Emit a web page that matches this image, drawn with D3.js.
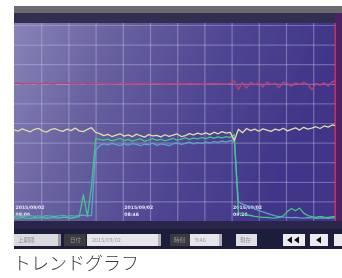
<!DOCTYPE html>
<html><head><meta charset="utf-8">
<script src="https://cdn.jsdelivr.net/npm/d3@7"></script>
<style>
html,body{margin:0;padding:0;background:#fff;}
svg{display:block;}
</style></head><body>
<svg id="chart" width="342" height="278"></svg>
<script>
// sample times (minutes), one sample every 1.5 min
const minutes = d3.range(0, 121, 1.5);

const redSeries = [
  70.1, 70.3, 69.9, 70.2, 70.0, 70.4, 69.8, 70.1, 70.3, 70.0,
  69.9, 70.6, 70.2, 70.5, 69.8, 70.1, 70.0, 70.2, 69.9, 70.1,
  70.0, 70.2, 70.1, 69.9, 70.0, 70.1, 70.2, 70.0, 69.9, 70.1,
  70.0, 70.1, 69.9, 70.0, 70.2, 70.1, 70.0, 69.9, 70.1, 70.0,
  70.1, 70.0, 69.9, 70.2, 70.0, 70.1, 69.9, 70.0, 70.1, 70.2,
  70.0, 70.1, 69.8, 70.2, 71.4, 67.2, 70.6, 67.8, 70.7, 69.5,
  70.6, 68.4, 71.0, 69.6, 70.4, 68.0, 70.8, 70.1, 68.8, 70.5,
  69.6, 70.8, 69.8, 67.0, 70.2, 69.2, 70.6, 68.8, 71.0, 71.6,
  70.6
];
const yellowSeries = [
  46.5, 45.8, 47.0, 46.2, 45.5, 46.8, 47.3, 46.0, 45.4, 46.6,
  47.1, 46.3, 45.7, 46.9, 46.1, 47.4, 46.0, 45.6, 46.8, 47.6,
  45.2, 44.6, 43.6, 44.2, 43.1, 43.8, 44.5, 43.3, 43.9, 43.0,
  44.3, 43.5, 42.8, 44.1, 43.4, 43.7, 42.9, 44.0, 43.2, 43.8,
  44.4, 43.1, 43.6, 44.6, 43.9, 44.8, 44.2, 45.0, 44.1, 45.3,
  44.5, 45.6, 44.8, 45.2, 41.0, 46.8, 45.0, 47.2, 46.1, 46.9,
  45.8, 47.0, 46.4, 45.7, 46.9, 46.2, 47.3, 46.0, 46.8, 47.5,
  46.4, 47.8, 46.9, 47.4, 48.1, 47.2, 48.5, 47.9, 49.0, 48.6,
  50.2
];
const greenSeries = [
  1.6, 1.4, 1.8, 1.5, 1.3, 1.7, 1.5, 1.9, 1.4, 1.6,
  1.8, 1.5, 2.0, 1.7, 1.4, 1.9, 2.2, 13.5, 2.4, 17.8,
  42.0, 41.6, 41.2, 41.8, 40.9, 41.5, 42.1, 41.0, 41.6, 40.8,
  41.4, 41.9, 40.7, 41.3, 42.0, 41.1, 41.7, 40.9, 41.5, 42.2,
  41.2, 41.8, 42.4, 41.6, 42.3, 41.9, 42.6, 42.0, 42.8, 42.3,
  42.9, 42.4, 43.0, 42.6, 44.0, 4.2, 3.6, 3.1, 2.8, 2.4,
  2.1, 1.9, 1.8, 1.6, 1.5, 1.8, 2.6, 4.8, 6.4, 5.2,
  6.6, 4.0, 2.8, 2.2, 1.9, 2.3, 2.0, 1.8, 2.2, 2.0,
  1.9
];
const cyanSeries = [
  2.4, 2.6, 2.2, 2.5, 2.8, 2.3, 2.6, 2.4, 2.7, 2.5,
  2.3, 2.6, 2.9, 2.4, 2.7, 2.5, 2.8, 3.0, 2.6, 2.9,
  36.0, 38.6, 39.4, 38.8, 39.6, 39.0, 38.5, 39.3, 38.7, 39.5,
  39.1, 38.4, 39.2, 38.9, 39.7, 38.6, 39.3, 39.0, 38.5, 39.4,
  39.8, 39.1, 39.6, 40.2, 39.4, 40.0, 39.5, 40.3, 39.8, 40.5,
  40.1, 40.7, 40.2, 41.0, 40.4, 9.8, 8.6, 7.9, 7.0, 6.2,
  5.4, 4.6, 3.9, 3.2, 2.6, 2.2, 2.0, 1.9, 1.7, 1.8,
  1.6, 1.5, 1.7, 1.6, 1.4, 1.5, 1.6, 1.4, 1.5, 1.6,
  1.5
];

const tickMinutes = [0, 40, 80];
const tickDates = ["2015/09/02", "2015/09/02", "2015/09/02"];
const tickTimes = ["08:06", "08:46", "09:26"];

const series = [
  {name: "red", values: redSeries, color: "#c83c72"},
  {name: "cyan", values: cyanSeries, color: "#5fa2cc"},
  {name: "green", values: greenSeries, color: "#44c688"},
  {name: "yellow", values: yellowSeries, color: "#e4dca6"}
];

const svg = d3.select("#chart");
const plot = {left: 14, top: 23, right: 335, bottom: 221};

const defs = svg.append("defs");
const bg = defs.append("linearGradient").attr("id", "bg")
    .attr("x1", 0).attr("y1", 0).attr("x2", 1).attr("y2", 0.25);
bg.append("stop").attr("offset", 0).attr("stop-color", "#8883b8");
bg.append("stop").attr("offset", 0.3).attr("stop-color", "#6862a0");
bg.append("stop").attr("offset", 0.65).attr("stop-color", "#4e4592");
bg.append("stop").attr("offset", 1).attr("stop-color", "#3f3488");
defs.append("filter").attr("id", "soft")
    .append("feGaussianBlur").attr("stdDeviation", 0.5);
defs.append("clipPath").attr("id", "clip").append("rect")
    .attr("x", plot.left).attr("y", plot.top)
    .attr("width", plot.right - plot.left).attr("height", plot.bottom - plot.top);

const photo = svg.append("g").attr("filter", "url(#soft)");

// top bezel
photo.append("rect").attr("x", 14).attr("y", 6).attr("width", 328).attr("height", 7).attr("fill", "#6c6c70");
photo.append("rect").attr("x", 14).attr("y", 13).attr("width", 328).attr("height", 10).attr("fill", "#322f50");
// plot background
photo.append("rect").attr("x", plot.left).attr("y", plot.top)
    .attr("width", plot.right - plot.left).attr("height", plot.bottom - plot.top)
    .attr("fill", "url(#bg)");
// right edge
photo.append("rect").attr("x", 335).attr("y", 13).attr("width", 7).attr("height", 208).attr("fill", "#4b2064");
photo.append("rect").attr("x", 334.5).attr("y", 23).attr("width", 1.5).attr("height", 198).attr("fill", "#c8325a");
// bottom strip + control bar
photo.append("rect").attr("x", 14).attr("y", 221).attr("width", 328).attr("height", 8).attr("fill", "#2b2849");
photo.append("rect").attr("x", 14).attr("y", 229).attr("width", 328).attr("height", 20).attr("fill", "#1e1c3e");

const x = d3.scaleLinear().domain([0, 120]).range([14, 340.4]);
const y = d3.scaleLinear().domain([0, 100]).range([221, 25]);

const plotG = photo.append("g").attr("clip-path", "url(#clip)");

// grid
plotG.append("g")
    .attr("transform", `translate(0,${plot.bottom})`)
    .call(d3.axisBottom(x).tickValues(d3.range(10, 121, 10)).tickSize(-(plot.bottom - plot.top)).tickFormat(""))
    .call(g => g.select(".domain").remove())
    .call(g => g.selectAll("line").attr("stroke", "#c8c6ec").attr("stroke-opacity", 0.4).attr("stroke-width", 1.2));
plotG.append("g")
    .attr("transform", `translate(${plot.left},0)`)
    .call(d3.axisLeft(y).tickValues(d3.range(10, 101, 10)).tickSize(-(plot.right - plot.left)).tickFormat(""))
    .call(g => g.select(".domain").remove())
    .call(g => g.selectAll("line").attr("stroke", "#c8c6ec").attr("stroke-opacity", 0.36).attr("stroke-width", 1.2));

// time labels
const tl = plotG.append("g").selectAll("g").data(tickMinutes).join("g")
    .attr("transform", d => `translate(${x(d) + 1.5},0)`)
    .attr("fill", "#e6e4f4").attr("font-family", "DejaVu Sans").attr("font-size", 4.6).attr("font-weight", "bold");
tl.append("text").attr("y", 209).text((d, i) => tickDates[i]);
tl.append("text").attr("y", 216).text((d, i) => tickTimes[i]);

// lines
const line = d3.line()
    .x((d, i) => x(minutes[i]))
    .y(d => y(d));
plotG.append("g").selectAll("path").data(series).join("path")
    .attr("fill", "none")
    .attr("stroke", d => d.color)
    .attr("stroke-width", 1.3)
    .attr("stroke-linejoin", "round")
    .attr("d", d => line(d.values));

// control bar
const ui = photo.append("g").attr("font-family", "Noto Sans CJK JP").attr("font-size", 5.5);
function box(x0, w, fill) {
  return ui.append("rect").attr("x", x0).attr("y", 234).attr("width", w).attr("height", 12).attr("fill", fill);
}
function label(x0, t, fill) {
  ui.append("text").attr("x", x0).attr("y", 242).attr("fill", fill).text(t);
}
box(14, 44, "#d9d9de"); label(18, "上期間", "#8a8a90");
box(58, 3, "#9a9aa0");
box(64, 22, "#3a3a3e"); label(70, "日付", "#9a9aa0");
box(87, 71, "#e6e6ea"); label(92, "2015/09/02", "#9a9aa2");
box(158, 3, "#b0b0b6");
box(170, 20, "#3a3a3e"); label(174, "時刻", "#9a9aa0");
box(190, 30, "#e6e6ea"); label(195, "9:46", "#9a9aa2");
box(219, 3, "#b0b0b6");
box(236, 21, "#e0e0e4"); label(240, "現在", "#8a8a90");
box(283, 22, "#ececf0");
box(310, 18, "#ececf0");
box(334, 8, "#ececf0");
const tri = (cx) => `M${cx - 3},240 L${cx + 2},236.5 L${cx + 2},243.5 Z`;
ui.append("path").attr("d", tri(290) + tri(297)).attr("fill", "#111");
ui.append("path").attr("d", tri(319)).attr("fill", "#111");

// caption
svg.append("text")
    .attr("x", 13).attr("y", 270)
    .attr("font-family", "Noto Sans CJK JP")
    .attr("font-weight", 300)
    .attr("font-size", 18)
    .attr("fill", "#3c3c3c")
    .text("トレンドグラフ");
</script>
</body></html>
